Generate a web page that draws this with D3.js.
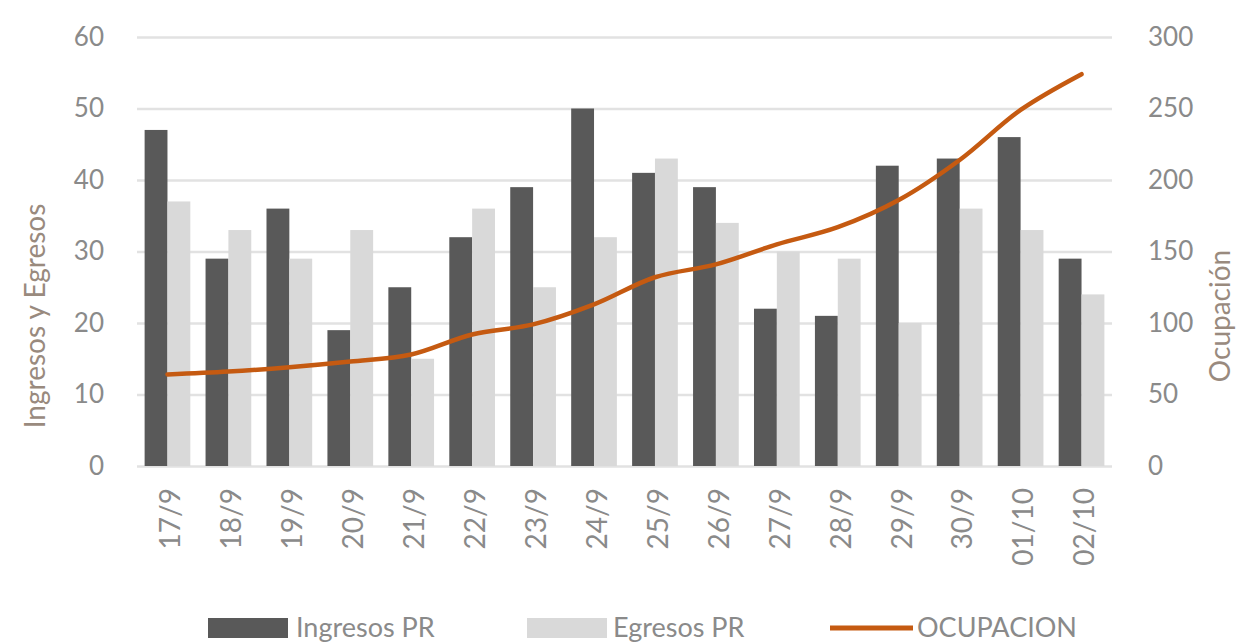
<!DOCTYPE html>
<html>
<head>
<meta charset="utf-8">
<script src="https://cdn.jsdelivr.net/npm/d3@7"></script>
<style>
  body { margin: 0; background: #fff; }
  svg text { font-family: Lato, "Open Sans", sans-serif; }
</style>
</head>
<body>
<svg width="1242" height="644"></svg>
<script>
const fechas = ['17/9', '18/9', '19/9', '20/9', '21/9', '22/9', '23/9', '24/9',
  '25/9', '26/9', '27/9', '28/9', '29/9', '30/9', '01/10', '02/10']
const ingresos = [47, 29, 36, 19, 25, 32, 39, 50, 41, 39, 22, 21, 42, 43, 46, 29]
const egresos = [37, 33, 29, 33, 15, 36, 25, 32, 43, 34, 30, 29, 20, 36, 33, 24]
const ocupacion = [64, 66, 69, 73, 78, 92, 99, 113, 132, 141, 155, 167, 186, 214, 249, 274]
const ticksIzq = [0, 10, 20, 30, 40, 50, 60]
const ticksDer = [0, 50, 100, 150, 200, 250, 300]
const series = ['Ingresos PR', 'Egresos PR']

const colores = { 'Ingresos PR': '#595959', 'Egresos PR': '#d9d9d9' }
const naranja = '#c55a11'
const gris = '#8a8a8a'

const mIzq = 137, mDer = 1112, mSup = 37, mInf = 466

const svg = d3.select('svg')

const x = d3.scaleBand().domain(fechas).range([mIzq, mDer])
  .paddingInner(0.25).paddingOuter(0.125)
const x1 = d3.scaleBand().domain(series).range([0, x.bandwidth()])
const yIzq = d3.scaleLinear().domain([0, 60]).range([mInf, mSup])
const yDer = d3.scaleLinear().domain([0, 300]).range([mInf, mSup])

// gridlines
svg.append('g')
  .attr('transform', `translate(${mIzq},0)`)
  .call(d3.axisLeft(yIzq).tickValues(ticksIzq).tickSize(-(mDer - mIzq)).tickFormat(''))
  .call(g => g.select('.domain').remove())
  .call(g => g.selectAll('line').attr('stroke', '#e2e2e2').attr('stroke-width', 2.5))

// left axis labels
svg.append('g')
  .attr('transform', `translate(${mIzq - 30},0)`)
  .call(d3.axisLeft(yIzq).tickValues(ticksIzq).tickSize(0))
  .call(g => g.select('.domain').remove())
  .call(g => g.selectAll('text').attr('fill', gris).attr('font-size', 26)
    .attr('font-family', 'Lato, sans-serif'))

// right axis labels
svg.append('g')
  .attr('transform', `translate(${mDer + 33},0)`)
  .call(d3.axisRight(yDer).tickValues(ticksDer).tickSize(0))
  .call(g => g.select('.domain').remove())
  .call(g => g.selectAll('text').attr('fill', gris).attr('font-size', 26)
    .attr('font-family', 'Lato, sans-serif'))

// bars
const datos = fechas.map((f, i) => ({ fecha: f, 'Ingresos PR': ingresos[i], 'Egresos PR': egresos[i] }))
svg.append('g')
  .selectAll('g')
  .data(datos)
  .join('g')
  .attr('transform', d => `translate(${x(d.fecha)},0)`)
  .selectAll('rect')
  .data(d => series.map(s => ({ serie: s, valor: d[s] })))
  .join('rect')
  .attr('x', d => x1(d.serie))
  .attr('y', d => yIzq(d.valor))
  .attr('width', x1.bandwidth())
  .attr('height', d => yIzq(0) - yIzq(d.valor))
  .attr('fill', d => colores[d.serie])

// line
const linea = d3.line()
  .x((d, i) => x(fechas[i]) + x.bandwidth() / 2)
  .y(d => yDer(d))
  .curve(d3.curveCatmullRom.alpha(0.5))

svg.append('path')
  .datum(ocupacion)
  .attr('d', linea)
  .attr('fill', 'none')
  .attr('stroke', naranja)
  .attr('stroke-width', 4.5)
  .attr('stroke-linecap', 'round')

// x axis labels
svg.append('g')
  .attr('transform', `translate(0,${mInf})`)
  .call(d3.axisBottom(x).tickSize(0).tickPadding(0))
  .call(g => g.select('.domain').remove())
  .call(g => g.selectAll('text')
    .attr('fill', gris)
    .attr('font-size', 28)
    .attr('font-family', 'Lato, sans-serif')
    .attr('text-anchor', 'end')
    .attr('dy', '0.35em')
    .attr('transform', 'translate(3,22) rotate(-90)')
    .attr('y', 0).attr('x', 0))

// axis titles
svg.append('text')
  .attr('transform', 'translate(45,316) rotate(-90)')
  .attr('text-anchor', 'middle')
  .attr('fill', '#998a7e')
  .attr('font-size', 28)
  .text('Ingresos y Egresos')

svg.append('text')
  .attr('transform', 'translate(1230,316) rotate(-90)')
  .attr('text-anchor', 'middle')
  .attr('fill', '#998a7e')
  .attr('font-size', 28)
  .text('Ocupación')

// legend
const leyenda = svg.append('g').attr('font-size', 27).attr('fill', gris)
leyenda.append('rect').attr('x', 208).attr('y', 618).attr('width', 80).attr('height', 20).attr('fill', colores['Ingresos PR'])
leyenda.append('text').attr('x', 296).attr('y', 628).attr('dy', '0.35em').text('Ingresos PR')
leyenda.append('rect').attr('x', 527).attr('y', 618).attr('width', 80).attr('height', 20).attr('fill', colores['Egresos PR'])
leyenda.append('text').attr('x', 613).attr('y', 628).attr('dy', '0.35em').text('Egresos PR')
leyenda.append('line').attr('x1', 830).attr('x2', 913).attr('y1', 628).attr('y2', 628)
  .attr('stroke', naranja).attr('stroke-width', 5)
leyenda.append('text').attr('x', 917).attr('y', 628).attr('dy', '0.35em').text('OCUPACION')
</script>
</body>
</html>
